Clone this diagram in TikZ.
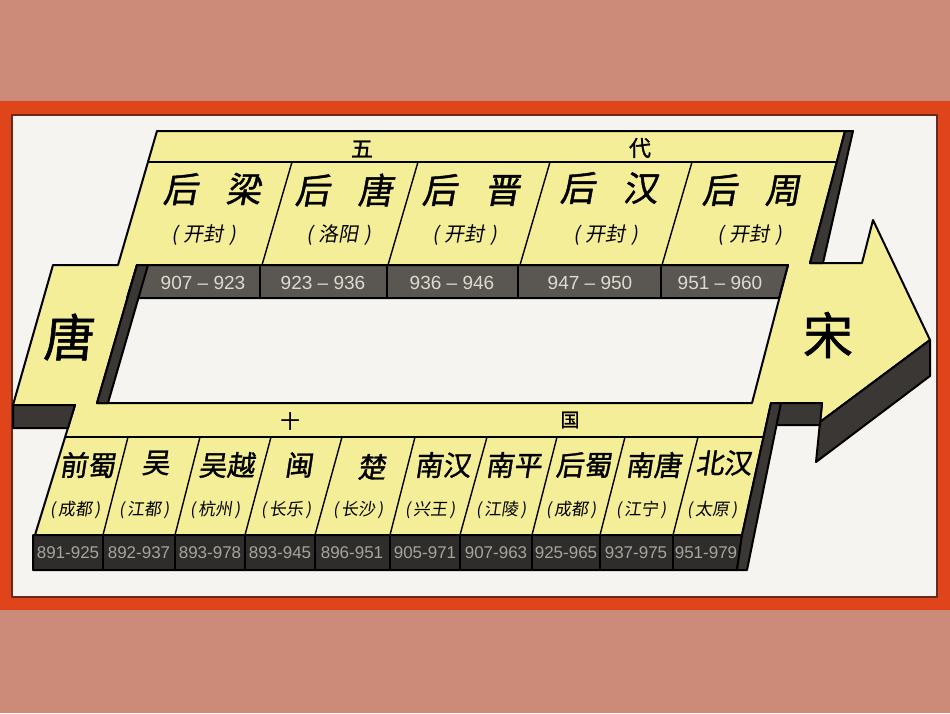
\documentclass[tikz,border=0pt]{standalone}
\usepackage{fontspec}
\setmainfont{Liberation Sans}
\newfontfamily\cjk{Noto Sans CJK SC}
\newfontfamily\cjkb[FakeBold=1.2]{Noto Sans CJK SC}
\definecolor{bgsal}{HTML}{CC8B78}
\definecolor{framered}{HTML}{E0441A}
\definecolor{framedark}{HTML}{6A2A1A}
\definecolor{paper}{HTML}{F6F4F1}
\definecolor{yel}{HTML}{F4EE98}
\definecolor{darkface}{HTML}{3A3734}
\definecolor{topband}{HTML}{5A5651}
\definecolor{botband}{HTML}{2F2D2B}
\definecolor{datetxt}{HTML}{DEDAD2}
\definecolor{datetxtb}{HTML}{A8A49D}
\begin{document}
\begin{tikzpicture}[x=1pt,y=-1pt,line join=round,
  outl/.style={draw=black,line width=2pt},
  divline/.style={draw=black,line width=1.4pt},
  lblmain/.style={font=\cjkb\fontsize{35}{35}\selectfont,xslant=0.18,inner sep=0pt},
  lblsub/.style={font=\cjk\fontsize{20}{20}\selectfont,xslant=0.18,inner sep=0pt},
  kname/.style={font=\cjkb\fontsize{28}{28}\selectfont,xslant=0.15,inner sep=0pt},
  ksub/.style={font=\cjk\fontsize{17}{17}\selectfont,xslant=0.15,inner sep=0pt},
  topdate/.style={font=\fontsize{19}{19}\selectfont,text=datetxt,inner sep=0pt},
  botdate/.style={font=\fontsize{17}{17}\selectfont,text=datetxtb,inner sep=0pt},
  hdr/.style={font=\cjkb\fontsize{22}{22}\selectfont,inner sep=0pt},
  bigch/.style={font=\cjkb\fontsize{50}{50}\selectfont,inner sep=0pt}]
\useasboundingbox (0,0) rectangle (950,713);
% background and frame
\fill[bgsal] (0,0) rectangle (950,713);
\fill[framered] (0,101) rectangle (950,610);
\fill[paper] (12,115) rectangle (937,597);
\draw[framedark,line width=1.5pt] (12,115) rectangle (937,597);
% yellow top face
\filldraw[fill=yel,outl] (157,131) -- (845,131) -- (810,263) -- (862,263) -- (873,220) -- (930,340)
  -- (820,422) -- (822,403) -- (771,403) -- (742,535) -- (35,535) -- (75,405) -- (13,405)
  -- (53,265) -- (118,265) -- cycle;
% inner hole
\filldraw[fill=paper,outl] (137,265) -- (788,265) -- (752,403) -- (97,403) -- cycle;
% top date band (front face inside the hole)
\filldraw[fill=topband,outl] (137,265) -- (788,265) -- (779,298) -- (127,298) -- cycle;
% left wall inside the hole
\filldraw[fill=darkface,outl] (137,265) -- (148,265) -- (108,403) -- (97,403) -- cycle;
\foreach \x in {260,387,518,661} \draw[divline] (\x,265) -- (\x,298);
% right side face of top band
\filldraw[fill=darkface,outl] (845,131) -- (853,131) -- (823,263) -- (810,263) -- cycle;
% front face under the arrow head
\filldraw[fill=darkface,outl] (930,340) -- (930,376) -- (816,462) -- (820,422) -- cycle;
% small notch face
\filldraw[fill=darkface,outl] (772,403) -- (822,403) -- (820,425) -- (772,425) -- cycle;
% dark block under the Tang band
\filldraw[fill=darkface,outl] (13,405) -- (75,405) -- (68,428) -- (13,428) -- cycle;
% top band header line and dividers
\draw[outl] (149,162) -- (837,162);
\foreach \a/\b in {292/262,418/388,550/520,692/662} \draw[divline] (\a,162) -- (\b,265);
% bottom band
\draw[outl] (65,437) -- (764,437);
\foreach \a/\b in {128/103,200/175,271/245,342/315,415/390,487/460,557/532,625/600,698/673}
  \draw[divline] (\a,437) -- (\b,535);
\filldraw[fill=botband,outl] (33,535) -- (742,535) -- (737,570) -- (33,570) -- cycle;
\foreach \x in {103,175,245,315,390,460,532,600,673} \draw[divline] (\x,535) -- (\x,570);
\filldraw[fill=darkface,outl] (771,403) -- (781,403) -- (747,570) -- (737,570) -- (742,535) -- cycle;
% headers
\node[hdr] (wu) at (362,149) {五};
\node[hdr] (dai) at (640,148) {代};
\node[hdr,font=\cjkb\fontsize{19}{19}\selectfont] (shi) at (290,421) {十};
\node[hdr,font=\cjkb\fontsize{19}{19}\selectfont] (guo) at (570,420) {国};
\node[bigch,xslant=0.1] (tang) at (70,337) {唐};
\node[bigch] (song) at (828,335) {宋};
% five dynasties
\node[lblmain] (d1) at (214,189) {后\hspace{0.8em}梁};
\node[lblmain] (d2) at (346,190) {后\hspace{0.8em}唐};
\node[lblmain] (d3) at (473,190) {后\hspace{0.8em}晋};
\node[lblmain] (d4) at (611,188) {后\hspace{0.8em}汉};
\node[lblmain] (d5) at (753,190) {后\hspace{0.8em}周};
\node[lblsub] (c1) at (205,235) {(\hspace{0.3em}开封\hspace{0.3em})};
\node[lblsub] (c2) at (340,235) {(\hspace{0.3em}洛阳\hspace{0.3em})};
\node[lblsub] (c3) at (466,235) {(\hspace{0.3em}开封\hspace{0.3em})};
\node[lblsub] (c4) at (607,235) {(\hspace{0.3em}开封\hspace{0.3em})};
\node[lblsub] (c5) at (751,235) {(\hspace{0.3em}开封\hspace{0.3em})};
\node[topdate] (y1) at (203,283) {907 – 923};
\node[topdate] (y2) at (323,283) {923 – 936};
\node[topdate] (y3) at (452,283) {936 – 946};
\node[topdate] (y4) at (590,283) {947 – 950};
\node[topdate] (y5) at (720,283) {951 – 960};
% ten kingdoms
\node[kname] (k1) at (89,465) {前蜀};
\node[kname] (k2) at (157,463) {吴};
\node[kname] (k3) at (228,465) {吴越};
\node[kname] (k4) at (300,465) {闽};
\node[kname] (k5) at (373,467) {楚};
\node[kname] (k6) at (444,465) {南汉};
\node[kname] (k7) at (515,465) {南平};
\node[kname] (k8) at (585,465) {后蜀};
\node[kname] (k9) at (655,465) {南唐};
\node[kname] (k10) at (725,463) {北汉};
\node[ksub] (s1) at (76,510) {(\hspace{0.15em}成都\hspace{0.15em})};
\node[ksub] (s2) at (145,510) {(\hspace{0.15em}江都\hspace{0.15em})};
\node[ksub] (s3) at (216,510) {(\hspace{0.15em}杭州\hspace{0.15em})};
\node[ksub] (s4) at (287,510) {(\hspace{0.15em}长乐\hspace{0.15em})};
\node[ksub] (s5) at (359,510) {(\hspace{0.15em}长沙\hspace{0.15em})};
\node[ksub] (s6) at (431,510) {(\hspace{0.15em}兴王\hspace{0.15em})};
\node[ksub] (s7) at (502,510) {(\hspace{0.15em}江陵\hspace{0.15em})};
\node[ksub] (s8) at (572,510) {(\hspace{0.15em}成都\hspace{0.15em})};
\node[ksub] (s9) at (642,510) {(\hspace{0.15em}江宁\hspace{0.15em})};
\node[ksub] (s10) at (713,510) {(\hspace{0.15em}太原\hspace{0.15em})};
\node[botdate] (z1) at (68,553) {891-925};
\node[botdate] (z2) at (139,553) {892-937};
\node[botdate] (z3) at (210,553) {893-978};
\node[botdate] (z4) at (280,553) {893-945};
\node[botdate] (z5) at (352,553) {896-951};
\node[botdate] (z6) at (425,553) {905-971};
\node[botdate] (z7) at (496,553) {907-963};
\node[botdate] (z8) at (566,553) {925-965};
\node[botdate] (z9) at (636,553) {937-975};
\node[botdate] (z10) at (706,553) {951-979};
\end{tikzpicture}
\end{document}
